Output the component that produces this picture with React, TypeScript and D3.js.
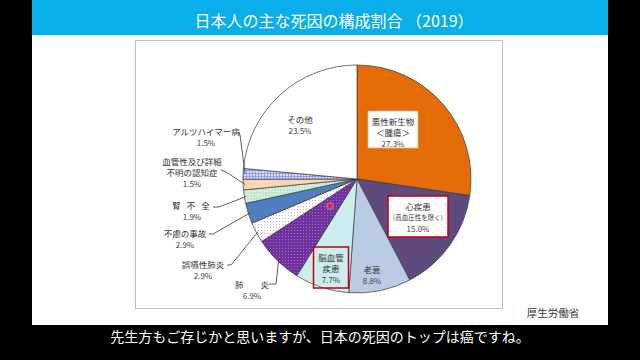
import React from 'react';
import * as d3 from 'd3';

// 日本人の主な死因の構成割合 (2019) — 厚生労働省
const causes = ['悪性新生物', '心疾患', '老衰', '脳血管疾患', '肺炎', '誤嚥性肺炎', '不慮の事故', '腎不全', '血管性及び詳細不明の認知症', 'アルツハイマー病', 'その他'];
const shares = [27.3, 15.0, 8.8, 7.7, 6.9, 2.9, 2.9, 1.9, 1.5, 1.5, 23.5];
const labelLines = [
  ['悪性新生物', '＜腫瘍＞'],
  ['心疾患', '(高血圧性を除く)'],
  ['老衰'],
  ['脳血管', '疾患'],
  ['肺　　炎'],
  ['誤嚥性肺炎'],
  ['不慮の事故'],
  ['腎 不 全'],
  ['血管性及び詳細', '不明の認知症'],
  ['アルツハイマー病'],
  ['その他'],
];
const fills = ['#e36c09', '#5f4a7e', '#b9cce4', '#cdeced', 'url(#dotPurple)', 'url(#dotPink)', '#4f7fc0', 'url(#dotGreen)', '#fcd5b4', 'url(#gridLav)', '#ffffff'];

// label placement: x, y of first line, optional box, optional leader (start, elbow)
type Lay = { x: number; y: number; box?: [number, number, string]; lead?: [number, number, number, number] };
const layout: Lay[] = [
  { x: 393, y: 121, box: [50, 37, '#e8b48a'] },
  { x: 418, y: 206, box: [60, 41, '#c0000f'] },
  { x: 372, y: 269 },
  { x: 331, y: 257, box: [35, 41, '#c0000f'] },
  { x: 252, y: 284, lead: [269, 284, 276, 284] },
  { x: 203, y: 264, lead: [227, 265, 231, 265] },
  { x: 185, y: 233, lead: [209, 234, 213, 234] },
  { x: 192, y: 205, lead: [213, 207, 219, 207] },
  { x: 192, y: 161, lead: [221, 170, 226, 172] },
  { x: 206, y: 131, lead: [239, 132, 240, 135] },
  { x: 300, y: 119 },
];

const font = '"Noto Sans CJK JP", "Noto Sans", sans-serif';

export default function App() {
  const cx = 357, cy = 179, r = 114;
  const pie = d3.pie<number>().sort(null).value(d => d).startAngle(0).endAngle(2 * Math.PI);
  const arcs = pie(shares);
  const arc = d3.arc<d3.PieArcDatum<number>>().innerRadius(0).outerRadius(r);
  const edge = d3.arc<d3.PieArcDatum<number>>().innerRadius(r - 2).outerRadius(r - 2);

  return (
    <div style={{ position: 'fixed', left: 0, top: 0, width: 640, height: 360, background: '#000' }}>
      <svg width={640} height={360} style={{ display: 'block' }} fontFamily={font}>
        <defs>
          <pattern id="dotPurple" width="3" height="3" patternUnits="userSpaceOnUse">
            <rect width="3" height="3" fill="#7030a0" />
            <rect x="0" y="0" width="1" height="1" fill="#9c70c4" />
          </pattern>
          <pattern id="dotPink" width="3" height="3" patternUnits="userSpaceOnUse">
            <rect width="3" height="3" fill="#ffffff" />
            <rect x="0" y="0" width="1" height="1" fill="#dcaadc" />
          </pattern>
          <pattern id="dotGreen" width="3" height="3" patternUnits="userSpaceOnUse">
            <rect width="3" height="3" fill="#c4e8d2" />
            <rect x="0" y="0" width="1" height="1" fill="#ffffff" />
          </pattern>
          <pattern id="gridLav" width="3" height="3" patternUnits="userSpaceOnUse">
            <rect width="3" height="3" fill="#dcdcff" />
            <rect x="0" y="0" width="3" height="1" fill="#9a9ae6" />
            <rect x="0" y="0" width="1" height="3" fill="#9a9ae6" />
          </pattern>
        </defs>

        <rect x={0} y={0} width={640} height={360} fill="#000" />
        <rect x={32} y={0} width={576} height={35} fill="#0aaee8" />
        <rect x={32} y={35} width={576} height={290} fill="#fff" />
        <text x={334} y={20} fill="#fff" fontSize={16} textAnchor="middle" dominantBaseline="central">
          日本人の主な死因の構成割合 （2019）
        </text>

        <rect x={135.5} y={40.5} width={367} height={268} fill="#fff" stroke="#bdbdbd" strokeWidth={1} />

        <g transform={`translate(${cx},${cy})`}>
          {arcs.map((d, i) => (
            <path key={causes[i]} d={arc(d) || ''} fill={fills[i]} stroke="#3a3a3a" strokeWidth={0.7} />
          ))}
        </g>

        {/* leader lines */}
        {arcs.map((d, i) => {
          const l = layout[i].lead;
          if (!l) return null;
          const [ex, ey] = edge.centroid(d);
          return (
            <polyline key={'lead' + i} points={`${l[0]},${l[1]} ${l[2]},${l[3]} ${cx + ex},${cy + ey}`}
              fill="none" stroke="#333" strokeWidth={0.8} />
          );
        })}

        {/* labels */}
        {layout.map((p, i) => {
          const lines = labelLines[i];
          const gap = 11;
          return (
            <g key={'lab' + i}>
              {p.box && (
                <rect x={p.x - p.box[0] / 2} y={p.y - 10} width={p.box[0]} height={p.box[1]}
                  fill={i === 3 ? 'none' : '#fff'} stroke={p.box[2]} strokeWidth={i === 0 ? 0.8 : 1.5} />
              )}
              {lines.map((t, j) => (
                <text key={j} x={p.x} y={p.y + j * gap} fontSize={i === 1 && j === 1 ? 6.5 : 8.5}
                  fill="#333" textAnchor="middle" dominantBaseline="central"
                  style={{ whiteSpace: 'pre' }} letterSpacing={i === 7 ? 2 : 0}>{t}</text>
              ))}
              <text x={p.x} y={p.y + lines.length * gap} fontSize={8} fill="#444"
                textAnchor="middle" dominantBaseline="central">{shares[i].toFixed(1)}%</text>
            </g>
          );
        })}

        {/* pointer dot */}
        <circle cx={330} cy={206} r={4} fill="#f07890" opacity={0.55} />
        <circle cx={330} cy={206} r={2} fill="#e0203c" />

        <text x={553} y={312} fontSize={10.5} fill="#333" textAnchor="middle" dominantBaseline="central">厚生労働省</text>
        <text x={320} y={336} fontSize={14} fill="#fff" textAnchor="middle" dominantBaseline="central">
          先生方もご存じかと思いますが、日本の死因のトップは癌ですね。
        </text>
      </svg>
    </div>
  );
}
